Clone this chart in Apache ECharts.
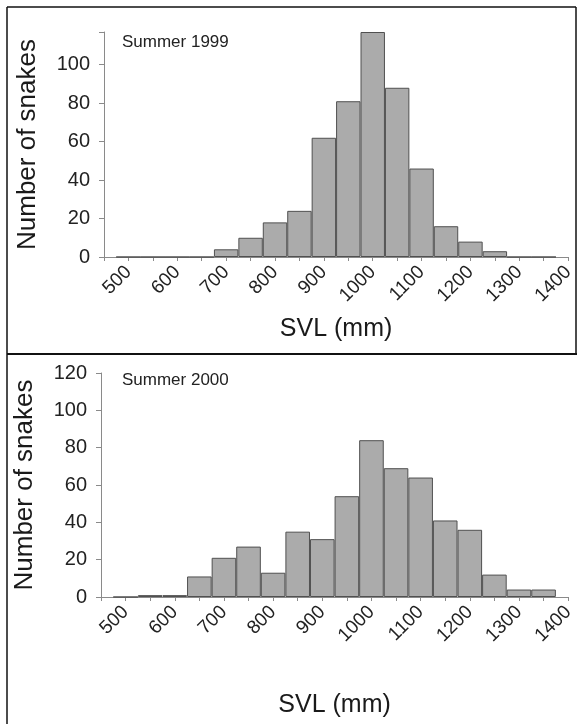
<!DOCTYPE html>
<html>
<head>
<meta charset="utf-8">
<script src="https://cdn.jsdelivr.net/npm/echarts@6/dist/echarts.min.js"></script>
<style>
html,body{margin:0;padding:0;background:#fff;}
#c{width:577px;height:724px;}
</style>
</head>
<body>
<div id="c"></div>
<script>
// Bin centres (mm), 50 mm bins
const binCenters = [500,550,600,650,700,750,800,850,900,950,1000,1050,1100,1150,1200,1250,1300,1350];
const counts1999 = [0,0,0,0,4,10,18,24,62,81,117,88,46,16,8,3,0,0];
const counts2000 = [0,1,1,11,21,27,13,35,31,54,84,69,64,41,36,12,4,4];
const xTickLabels = [500,600,700,800,900,1000,1100,1200,1300,1400];
const yTicks1999 = [0,20,40,60,80,100];
const yTicks2000 = [0,20,40,60,80,100,120];
const panelLabels = ['Summer 1999','Summer 2000'];
const xTitle = 'SVL (mm)';
const yTitle = 'Number of snakes';

const FONT = 'Liberation Sans, Arial, sans-serif';
const chart = echarts.init(document.getElementById('c'), null, {renderer:'canvas'});

function pairs(vals){ return binCenters.map((c,i)=>[c, vals[i]]); }

function xAxisCfg(gridIndex, gap){
  return {
    type:'value', gridIndex, min:450, max:1400, interval:50,
    name:xTitle, nameLocation:'middle', nameGap:gap,
    nameTextStyle:{fontFamily:FONT, fontSize:25, color:'#1a1a1a'},
    axisLine:{show:true, lineStyle:{color:'#8a8a8a', width:1}},
    axisTick:{show:true, length:4, lineStyle:{color:'#8a8a8a'}},
    axisLabel:{
      rotate:45, margin:12, fontFamily:FONT, fontSize:19, color:'#222',
      formatter:(v)=> xTickLabels.indexOf(v) >= 0 ? String(v) : ''
    },
    splitLine:{show:false}
  };
}
function yAxisCfg(gridIndex, max, ticks){
  return {
    type:'value', gridIndex, min:0, max:max, interval:20,
    name:yTitle, nameLocation:'middle', nameGap:63, nameRotate:90,
    nameTextStyle:{fontFamily:FONT, fontSize:26, color:'#1a1a1a'},
    axisLine:{show:true, lineStyle:{color:'#8a8a8a', width:1}},
    axisTick:{show:true, length:5, lineStyle:{color:'#8a8a8a'}},
    axisLabel:{
      margin:14, fontFamily:FONT, fontSize:20, color:'#222',
      formatter:(v)=> ticks.indexOf(v) >= 0 ? String(v) : ''
    },
    splitLine:{show:false}
  };
}
function barSeries(idx, vals){
  return {
    type:'bar', xAxisIndex:idx, yAxisIndex:idx, data:pairs(vals),
    barWidth:'100%', clip:true,
    itemStyle:{color:'#ababab', borderColor:'#505050', borderWidth:1}
  };
}

chart.setOption({
  animation:false,
  backgroundColor:'#fff',
  grid:[
    {left:104, top:32, width:470, height:225},
    {left:101, top:373, width:470, height:224}
  ],
  xAxis:[xAxisCfg(0, 60), xAxisCfg(1, 96)],
  yAxis:[yAxisCfg(0, 117, yTicks1999), yAxisCfg(1, 120, yTicks2000)],
  series:[barSeries(0, counts1999), barSeries(1, counts2000)],
  graphic:[
    {type:'line', shape:{x1:7, y1:7, x2:576, y2:7}, style:{stroke:'#111', lineWidth:1.5}},
    {type:'line', shape:{x1:576, y1:7, x2:576, y2:354}, style:{stroke:'#111', lineWidth:1.5}},
    {type:'line', shape:{x1:7, y1:7, x2:7, y2:724}, style:{stroke:'#111', lineWidth:1.5}},
    {type:'line', shape:{x1:7, y1:354, x2:577, y2:354}, style:{stroke:'#111', lineWidth:2}},
    {type:'text', left:122, top:34, style:{text:panelLabels[0], font:'17px '+FONT, fill:'#222'}},
    {type:'text', left:122, top:372, style:{text:panelLabels[1], font:'17px '+FONT, fill:'#222'}}
  ]
});
</script>
</body>
</html>
